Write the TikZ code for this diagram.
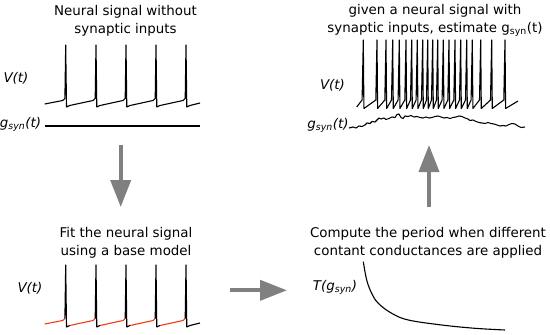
\documentclass[tikz,border=0pt]{standalone}
\usepackage{fontspec}
\setmainfont{DejaVu Sans}[ItalicFont={DejaVu Sans Oblique}]
\usetikzlibrary{arrows.meta}
\definecolor{fitred}{RGB}{240,60,20}

\tikzset{
  trace/.style={line width=1.1pt, line join=round},
  fitted/.style={trace, fitred},
  flow/.style={line width=4pt, gray, -{Triangle[length=27pt,width=20pt]}},
  title/.style={align=center, inner sep=0pt, font=\fontsize{13.4}{18.3}\selectfont},
  lab/.style={inner sep=0pt, font=\fontsize{13.4}{16}\selectfont\itshape},
}

\begin{document}
\begin{tikzpicture}[x=1pt, y=-1pt]
    \useasboundingbox (0,0) rectangle (550,335);

    % 1. Tieu de cac o
    \node[title] (rawTitle) at (125.5,20.5) {Neural signal without\\synaptic inputs};
    \node[title] (fitTitle) at (126,242.5) {Fit the neural signal\\using a base model};
    \node[title] (perTitle) at (428,242.5) {Compute the period when different\\contant conductances are applied};
    \node[title] (estTitle) at (435,20.5) {given a neural signal with\\synaptic inputs, estimate g\textsubscript{syn}(t)};

    % 2. Nhan truc
    \node[lab] (vRaw) at (16,78) {V(t)};
    \node[lab] (gRaw) at (20.5,124.5) {g\textsubscript{syn}(t)};
    \node[lab] (vFit) at (30,288) {V(t)};
    \node[lab] (tPer) at (335,287.5) {T(g\textsubscript{syn})};
    \node[lab] (vSyn) at (332.5,85) {V(t)};
    \node[lab] (gSyn) at (328,125.5) {g\textsubscript{syn}(t)};

    % 3. Tin hieu khong co dau vao synap
    \draw[trace] (44.7,104) \foreach \s in {65.7,96,126,156,186} {
        -- (\s-3,100.5) -- (\s-0.8,98.5) -- (\s,45) -- (\s+0.8,107) -- (\s+4,105.5) } -- (200,103);
    \draw[trace] (45,126) -- (200,126);

    % 4. Khop mo hinh co so (doan do)
    \begin{scope}[shift={(0,220)}]
        \draw[fitted] (44.7,104) -- (62.7,100.5) -- (64.9,98.5);
        \foreach \a/\b in {65.7/96,96/126,126/156,156/186}
            \draw[fitted] (\a+4,105.5) -- (\b-3,100.5) -- (\b-0.8,98.5);
        \foreach \s in {65.7,96,126,156,186}
            \draw[trace] (\s-0.8,98.5) -- (\s,45) -- (\s+0.8,107) -- (\s+4,105.5);
        \draw[trace] (190,105.5) -- (200,103);
    \end{scope}

    % 5. Chu ky T(g_syn)
    \draw[trace] plot[smooth, tension=0.6] coordinates {(363.3,261.7) (366.7,280) (371.7,293.3)
        (378.3,303.3) (391.7,313.3) (408.3,320) (441.7,325) (475,328.3) (505,330)};

    % 6. Tin hieu co dau vao synap
    \draw[trace] (356.7,107) \foreach \s in {363.3,377,386,392.7,399.3,406,411.7,417.3,422.7,
        427.7,432.7,437.7,443.3,449,455,460.7,466.7,472.3,480.7,491.7,505} {
        -- (\s-1.2,100) -- (\s,40) -- (\s+0.6,108.5) } -- (518,101);
    \draw[trace] plot coordinates {(349,128) (353,127) (356,128) (359,126) (362,126.5) (365,125)
        (367,123) (370,123.5) (372,121.5) (375,122) (377,120) (379,118) (381,119) (384,118)
        (386,119.5) (389,118.5) (392,117) (395,117.5) (397,114.5) (399,114) (401,117.5)
        (403,118.5) (405,116) (408,116.5) (411,115.5) (414,117) (417,116.5) (420,117.5)
        (423,118) (426,117) (429,118) (432,117.5) (435,116.5) (438,116) (441,117) (444,118)
        (447,117.5) (450,118.5) (453,117.5) (456,117) (459,116) (462,116.5) (465,118)
        (468,119) (470,120.5) (473,120) (476,121.5) (479,122.5) (482,123) (485,123.5)
        (488,122.5) (491,123.5) (494,124) (497,125) (500,126) (503,125.5) (506,126)
        (509,124.5) (512,123.5) (515,124) (518,126) (521,127.5) (525,127)};

    % 7. Mui ten
    \coordinate (downA) at (120.7,145);
    \coordinate (downB) at (120.7,207);
    \coordinate (rightA) at (230,290.3);
    \coordinate (rightB) at (287,290.3);
    \coordinate (upA) at (429,207);
    \coordinate (upB) at (429,145);
    \draw[flow] (downA) -- (downB);
    \draw[flow] (rightA) -- (rightB);
    \draw[flow] (upA) -- (upB);

\end{tikzpicture}
\end{document}
